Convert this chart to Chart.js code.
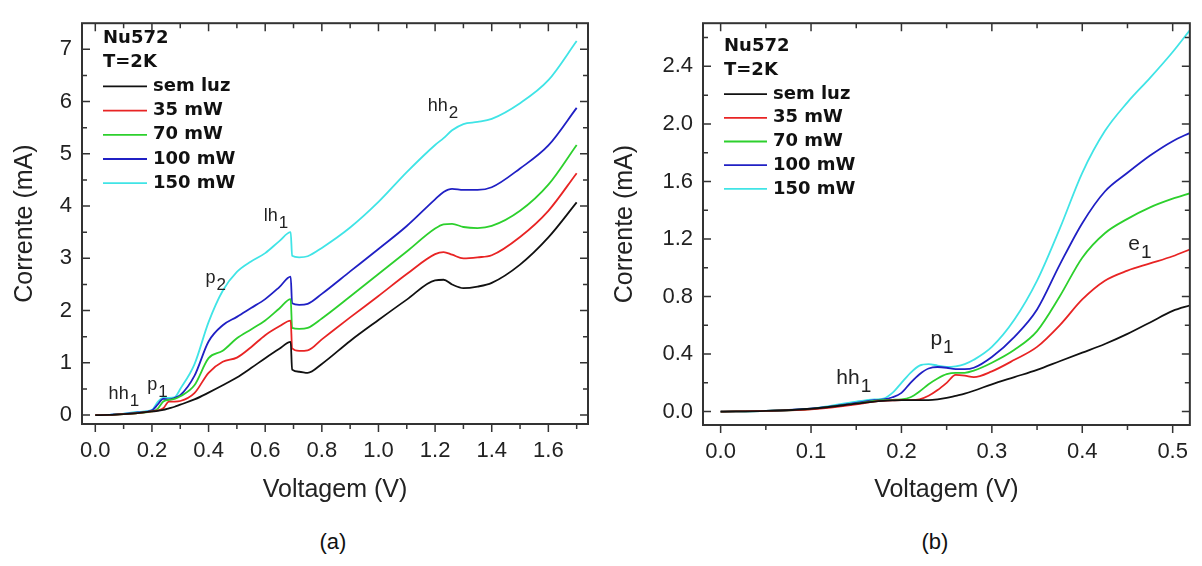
<!DOCTYPE html>
<html>
<head>
<meta charset="utf-8">
<script src="https://cdn.jsdelivr.net/npm/chart.js@4.4.1/dist/chart.umd.min.js"></script>
<style>
  body { margin: 0; background: #fff; width: 1202px; height: 566px; position: relative; overflow: hidden;
         font-family: "Liberation Sans", Arial, sans-serif; }
  #chartA { position: absolute; left: 0; top: 0; }
  #chartB { position: absolute; left: 600px; top: 0; }
  .cap { position: absolute; top: 529px; width: 60px; text-align: center; font-size: 22px; color: #111; }
</style>
</head>
<body>
<canvas id="chartA" width="600" height="520"></canvas>
<canvas id="chartB" width="602" height="520"></canvas>
<div class="cap" style="left:303px">(a)</div>
<div class="cap" style="left:905px">(b)</div>
<script>
// series names and colours
var seriesNames = ['sem luz', '35 mW', '70 mW', '100 mW', '150 mW'];
var seriesColors = ['#111111', 'rgb(232,36,36)', 'rgb(45,208,45)', 'rgb(32,32,196)', 'rgb(64,228,230)'];

// (a) full sweep
var leftVolt = [0, 0.05, 0.1, 0.15, 0.2, 0.22, 0.24, 0.26, 0.28, 0.3, 0.35, 0.4, 0.45, 0.5, 0.55, 0.6, 0.65, 0.69, 0.695,
                0.72, 0.75, 0.8, 0.9, 1.0, 1.1, 1.2, 1.23, 1.26, 1.3, 1.35, 1.4, 1.5, 1.6, 1.7];
var leftSemLuz = [0, 0.005, 0.02, 0.04, 0.07, 0.08, 0.1, 0.13, 0.16, 0.2, 0.3, 0.43, 0.57, 0.72, 0.9, 1.09, 1.27, 1.40, 0.87,
                  0.83, 0.81, 0.98, 1.42, 1.82, 2.21, 2.58, 2.59, 2.50, 2.43, 2.46, 2.53, 2.88, 3.40, 4.07];
var left35 = [0, 0.005, 0.02, 0.04, 0.07, 0.09, 0.13, 0.26, 0.26, 0.27, 0.42, 0.81, 1.02, 1.10, 1.30, 1.53, 1.70, 1.81, 1.28,
              1.23, 1.24, 1.45, 1.87, 2.28, 2.70, 3.08, 3.12, 3.07, 3.00, 3.02, 3.06, 3.41, 3.91, 4.63];
var left70 = [0, 0.005, 0.02, 0.04, 0.07, 0.12, 0.26, 0.29, 0.31, 0.36, 0.57, 1.09, 1.23, 1.47, 1.64, 1.81, 2.04, 2.22, 1.67,
              1.65, 1.67, 1.85, 2.27, 2.70, 3.13, 3.57, 3.65, 3.66, 3.60, 3.58, 3.62, 3.91, 4.41, 5.17];
var left100 = [0, 0.005, 0.025, 0.05, 0.09, 0.2, 0.31, 0.30, 0.33, 0.38, 0.75, 1.41, 1.72, 1.88, 2.05, 2.22, 2.45, 2.65, 2.14,
               2.11, 2.13, 2.32, 2.75, 3.18, 3.62, 4.13, 4.27, 4.33, 4.31, 4.31, 4.36, 4.72, 5.16, 5.88];
var left150 = [0, 0.005, 0.03, 0.06, 0.1, 0.25, 0.33, 0.33, 0.34, 0.5, 0.97, 1.78, 2.38, 2.74, 2.94, 3.1, 3.33, 3.50, 3.05,
               3.02, 3.04, 3.2, 3.59, 4.08, 4.65, 5.17, 5.30, 5.45, 5.57, 5.61, 5.67, 5.97, 6.41, 7.16];
var leftXTicks = [0, 0.1, 0.2, 0.3, 0.4, 0.5, 0.6, 0.7, 0.8, 0.9, 1.0, 1.1, 1.2, 1.3, 1.4, 1.5, 1.6, 1.7];
var leftYTicks = [0, 0.5, 1, 1.5, 2, 2.5, 3, 3.5, 4, 4.5, 5, 5.5, 6, 6.5, 7];

// (b) low-voltage detail
var rightVolt = [0, 0.05, 0.1, 0.15, 0.17, 0.18, 0.19, 0.2, 0.21, 0.22, 0.23, 0.24, 0.25, 0.26, 0.27, 0.28, 0.3,
                 0.325, 0.35, 0.375, 0.4, 0.425, 0.45, 0.475, 0.5, 0.52];
var rightSemLuz = [0, 0.005, 0.02, 0.055, 0.07, 0.075, 0.078, 0.08, 0.08, 0.08, 0.08, 0.085, 0.095, 0.11, 0.125, 0.145, 0.19,
                   0.24, 0.29, 0.35, 0.41, 0.47, 0.54, 0.62, 0.70, 0.74];
var right35 = [0, 0.005, 0.015, 0.05, 0.07, 0.075, 0.078, 0.08, 0.08, 0.085, 0.11, 0.15, 0.2, 0.255, 0.25, 0.24, 0.28,
               0.36, 0.45, 0.6, 0.78, 0.91, 0.98, 1.03, 1.08, 1.13];
var right70 = [0, 0.005, 0.018, 0.055, 0.075, 0.08, 0.082, 0.085, 0.1, 0.14, 0.19, 0.23, 0.26, 0.27, 0.27, 0.285, 0.34,
               0.43, 0.56, 0.8, 1.07, 1.24, 1.34, 1.42, 1.48, 1.52];
var right100 = [0, 0.005, 0.02, 0.06, 0.08, 0.085, 0.1, 0.13, 0.2, 0.26, 0.3, 0.31, 0.305, 0.295, 0.295, 0.305, 0.38,
                0.52, 0.71, 1.02, 1.31, 1.53, 1.66, 1.78, 1.88, 1.94];
var right150 = [0, 0.005, 0.02, 0.07, 0.085, 0.09, 0.13, 0.2, 0.27, 0.32, 0.33, 0.32, 0.31, 0.315, 0.33, 0.36, 0.45,
                0.64, 0.91, 1.27, 1.66, 1.95, 2.15, 2.32, 2.5, 2.66];
var rightXTicks = [0, 0.05, 0.1, 0.15, 0.2, 0.25, 0.3, 0.35, 0.4, 0.45, 0.5];
var rightYTicks = [0, 0.2, 0.4, 0.6, 0.8, 1.0, 1.2, 1.4, 1.6, 1.8, 2.0, 2.2, 2.4, 2.6];

// peak labels, in data units
var leftNotes = [
  {t: 'hh', s: '1', x: 0.047, y: 0.30},
  {t: 'p', s: '1', x: 0.183, y: 0.48},
  {t: 'p', s: '2', x: 0.389, y: 2.53},
  {t: 'lh', s: '1', x: 0.595, y: 3.72},
  {t: 'hh', s: '2', x: 1.174, y: 5.82}
];
var rightNotes = [
  {t: 'hh', s: '1', x: 0.128, y: 0.19},
  {t: 'p', s: '1', x: 0.232, y: 0.46},
  {t: 'e', s: '1', x: 0.451, y: 1.12}
];

Chart.defaults.font.family = '"Liberation Sans", Arial, sans-serif';
Chart.defaults.color = '#222';

function isMajor(v, step) {
  return Math.abs(v / step - Math.round(v / step)) < 1e-6;
}

function makeSets(volt, rows) {
  return rows.map(function (vals, i) {
    return {
      label: seriesNames[i],
      data: volt.map(function (v, k) { return {x: v, y: vals[k]}; }),
      borderColor: seriesColors[i],
      borderWidth: 1.8,
      pointRadius: 0,
      cubicInterpolationMode: 'monotone',
      fill: false
    };
  });
}

// frame with inward ticks (bottom ticks point outward)
var frameTicks = {
  id: 'frameTicks',
  afterDraw: function (chart, args, o) {
    var ctx = chart.ctx, a = chart.chartArea, xs = chart.scales.x, ys = chart.scales.y;
    ctx.save();
    ctx.strokeStyle = '#333';
    ctx.lineWidth = 1.5;
    ctx.beginPath();
    o.xTicks.forEach(function (v) {
      var px = xs.getPixelForValue(v);
      var len = isMajor(v, o.xMajor) ? 8 : 5;
      ctx.moveTo(px, a.bottom); ctx.lineTo(px, a.bottom + len);
      ctx.moveTo(px, a.top); ctx.lineTo(px, a.top + len);
    });
    o.yTicks.forEach(function (v) {
      var py = ys.getPixelForValue(v);
      var len = isMajor(v, o.yMajor) ? 8 : 5;
      ctx.moveTo(a.left, py); ctx.lineTo(a.left + len, py);
      ctx.moveTo(a.right, py); ctx.lineTo(a.right - len, py);
    });
    ctx.stroke();
    ctx.lineWidth = 2;
    ctx.strokeRect(a.left, a.top, a.right - a.left, a.bottom - a.top);
    ctx.restore();
  }
};

// legend block and peak labels drawn inside the plot
var decor = {
  id: 'decor',
  afterDatasetsDraw: function (chart, args, o) {
    var ctx = chart.ctx, xs = chart.scales.x, ys = chart.scales.y;
    var L = o.legend;
    ctx.save();
    ctx.fillStyle = '#111';
    ctx.textBaseline = 'middle';
    ctx.textAlign = 'left';
    ctx.font = 'bold 18px "DejaVu Sans", Verdana, sans-serif';
    ctx.fillText('Nu572', L.x, L.y);
    ctx.fillText('T=2K', L.x, L.y + L.gap);
    chart.data.datasets.forEach(function (ds, i) {
      var y = L.y + L.gap * (i + 2);
      ctx.strokeStyle = ds.borderColor;
      ctx.lineWidth = 1.8;
      ctx.beginPath();
      ctx.moveTo(L.x, y); ctx.lineTo(L.x + L.lineLen, y);
      ctx.stroke();
      ctx.fillText(ds.label, L.x + L.lineLen + 6, y);
    });
    ctx.textBaseline = 'alphabetic';
    ctx.fillStyle = '#222';
    o.notes.forEach(function (n) {
      var px = xs.getPixelForValue(n.x), py = ys.getPixelForValue(n.y);
      ctx.font = o.noteSize + 'px "Liberation Sans", Arial, sans-serif';
      ctx.fillText(n.t, px, py);
      var w = ctx.measureText(n.t).width;
      ctx.font = o.subSize + 'px "Liberation Sans", Arial, sans-serif';
      ctx.fillText(n.s, px + w + 1, py + o.subDrop);
    });
    ctx.restore();
  }
};

function axisOpts(cfg) {
  return {
    x: {
      type: 'linear', min: cfg.xMin, max: cfg.xMax,
      afterBuildTicks: function (ax) { ax.ticks = cfg.xTicks.map(function (v) { return {value: v}; }); },
      afterFit: function (ax) { ax.height = cfg.xHeight; },
      grid: {display: false, drawTicks: false},
      border: {display: false},
      ticks: {
        autoSkip: false, maxRotation: 0, padding: 14, color: '#222', font: {size: 22},
        callback: function (v) { return isMajor(v, cfg.xMajor) ? v.toFixed(1) : ''; }
      },
      title: {display: true, text: 'Voltagem (V)', color: '#222', font: {size: 25}, padding: {top: 0, bottom: 15}}
    },
    y: {
      type: 'linear', min: cfg.yMin, max: cfg.yMax,
      afterBuildTicks: function (ax) { ax.ticks = cfg.yTicks.map(function (v) { return {value: v}; }); },
      afterFit: function (ax) { ax.width = cfg.yWidth; },
      grid: {display: false, drawTicks: false},
      border: {display: false},
      ticks: {
        autoSkip: false, padding: 10, color: '#222', font: {size: 22},
        callback: function (v) { return isMajor(v, cfg.yMajor) ? cfg.yFmt(v) : ''; }
      },
      title: {display: true, text: 'Corrente (mA)', color: '#222', font: {size: 25}, padding: {top: 10, bottom: 0}}
    }
  };
}

new Chart(document.getElementById('chartA'), {
  type: 'line',
  data: {datasets: makeSets(leftVolt, [leftSemLuz, left35, left70, left100, left150])},
  options: {
    responsive: false,
    animation: false,
    layout: {padding: {left: 0, top: 15, right: 12, bottom: 0}},
    scales: axisOpts({
      xMin: -0.047, xMax: 1.74, xTicks: leftXTicks, xMajor: 0.2, xHeight: 96,
      yMin: -0.17, yMax: 7.5, yTicks: leftYTicks, yMajor: 1, yWidth: 82,
      yFmt: function (v) { return String(Math.round(v)); }
    }),
    plugins: {
      legend: {display: false},
      tooltip: {enabled: false},
      frameTicks: {xTicks: leftXTicks, yTicks: leftYTicks, xMajor: 0.2, yMajor: 1},
      decor: {legend: {x: 103, y: 38, gap: 24.2, lineLen: 44}, notes: leftNotes, noteSize: 18, subSize: 17, subDrop: 7}
    }
  },
  plugins: [frameTicks, decor]
});

new Chart(document.getElementById('chartB'), {
  type: 'line',
  data: {datasets: makeSets(rightVolt, [rightSemLuz, right35, right70, right100, right150])},
  options: {
    responsive: false,
    animation: false,
    layout: {padding: {left: 0, top: 23, right: 1, bottom: 0}},
    scales: axisOpts({
      xMin: -0.0195, xMax: 0.519, xTicks: rightXTicks, xMajor: 0.1, xHeight: 95,
      yMin: -0.093, yMax: 2.70, yTicks: rightYTicks, yMajor: 0.4, yWidth: 103,
      yFmt: function (v) { return v.toFixed(1); }
    }),
    plugins: {
      legend: {display: false},
      tooltip: {enabled: false},
      frameTicks: {xTicks: rightXTicks, yTicks: rightYTicks, xMajor: 0.1, yMajor: 0.4},
      decor: {legend: {x: 124, y: 46.7, gap: 23.7, lineLen: 43}, notes: rightNotes, noteSize: 21, subSize: 19, subDrop: 8}
    }
  },
  plugins: [frameTicks, decor]
});
</script>
</body>
</html>
